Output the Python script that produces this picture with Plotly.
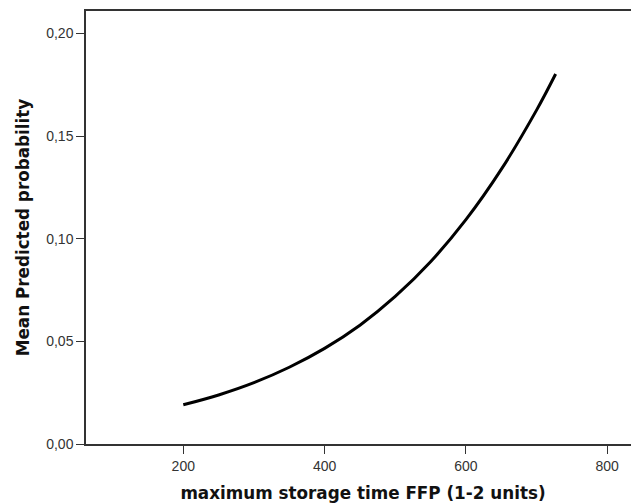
import plotly.graph_objects as go

storage_time = [200, 250, 300, 350, 400, 450, 500, 550, 600, 650, 700, 727]
mean_pred_prob = [0.0191, 0.0239, 0.0299, 0.0374, 0.0466, 0.0579, 0.0719,
                  0.0888, 0.1093, 0.1338, 0.1627, 0.1803]
x_ticks = [200, 400, 600, 800]
y_ticks = [0.00, 0.05, 0.10, 0.15, 0.20]

fig = go.Figure()
fig.add_trace(go.Scatter(
    x=storage_time, y=mean_pred_prob, mode="lines",
    line=dict(color="black", width=3, shape="spline"),
    showlegend=False,
))

axis_font = dict(family="Liberation Sans, Arial, sans-serif", size=14, color="#333333")
title_font = dict(family="DejaVu Sans, Verdana, sans-serif", size=16.8, color="#111111")

fig.update_layout(
    width=640, height=504,
    margin=dict(l=86, r=0, t=11, b=60),
    paper_bgcolor="white", plot_bgcolor="white",
    separators=",.",
    xaxis=dict(
        range=[62.3, 846.4], tickvals=x_ticks, ticks="outside", ticklen=8,
        tickcolor="#333333", showline=True, linecolor="#333333", linewidth=1.5,
        mirror=True, showgrid=False, zeroline=False, tickfont=axis_font,
        automargin=False,
        title=dict(text="<b>maximum storage time FFP (1-2 units)</b>",
                   font=title_font, standoff=15),
    ),
    yaxis=dict(
        range=[0, 0.211], tickvals=y_ticks, tickformat=".2f", ticks="outside",
        ticklen=8, tickcolor="#333333", showline=True, linecolor="#333333",
        linewidth=1.5, mirror=False, showgrid=False, zeroline=False,
        tickfont=axis_font, automargin=False,
        title=dict(text="<b>Mean Predicted probability</b>", font=title_font,
                   standoff=12),
    ),
)

fig.write_html(
    "out.html",
    config={"displayModeBar": False},
    post_script="document.body.style.margin='0';document.body.style.overflow='hidden';",
)
